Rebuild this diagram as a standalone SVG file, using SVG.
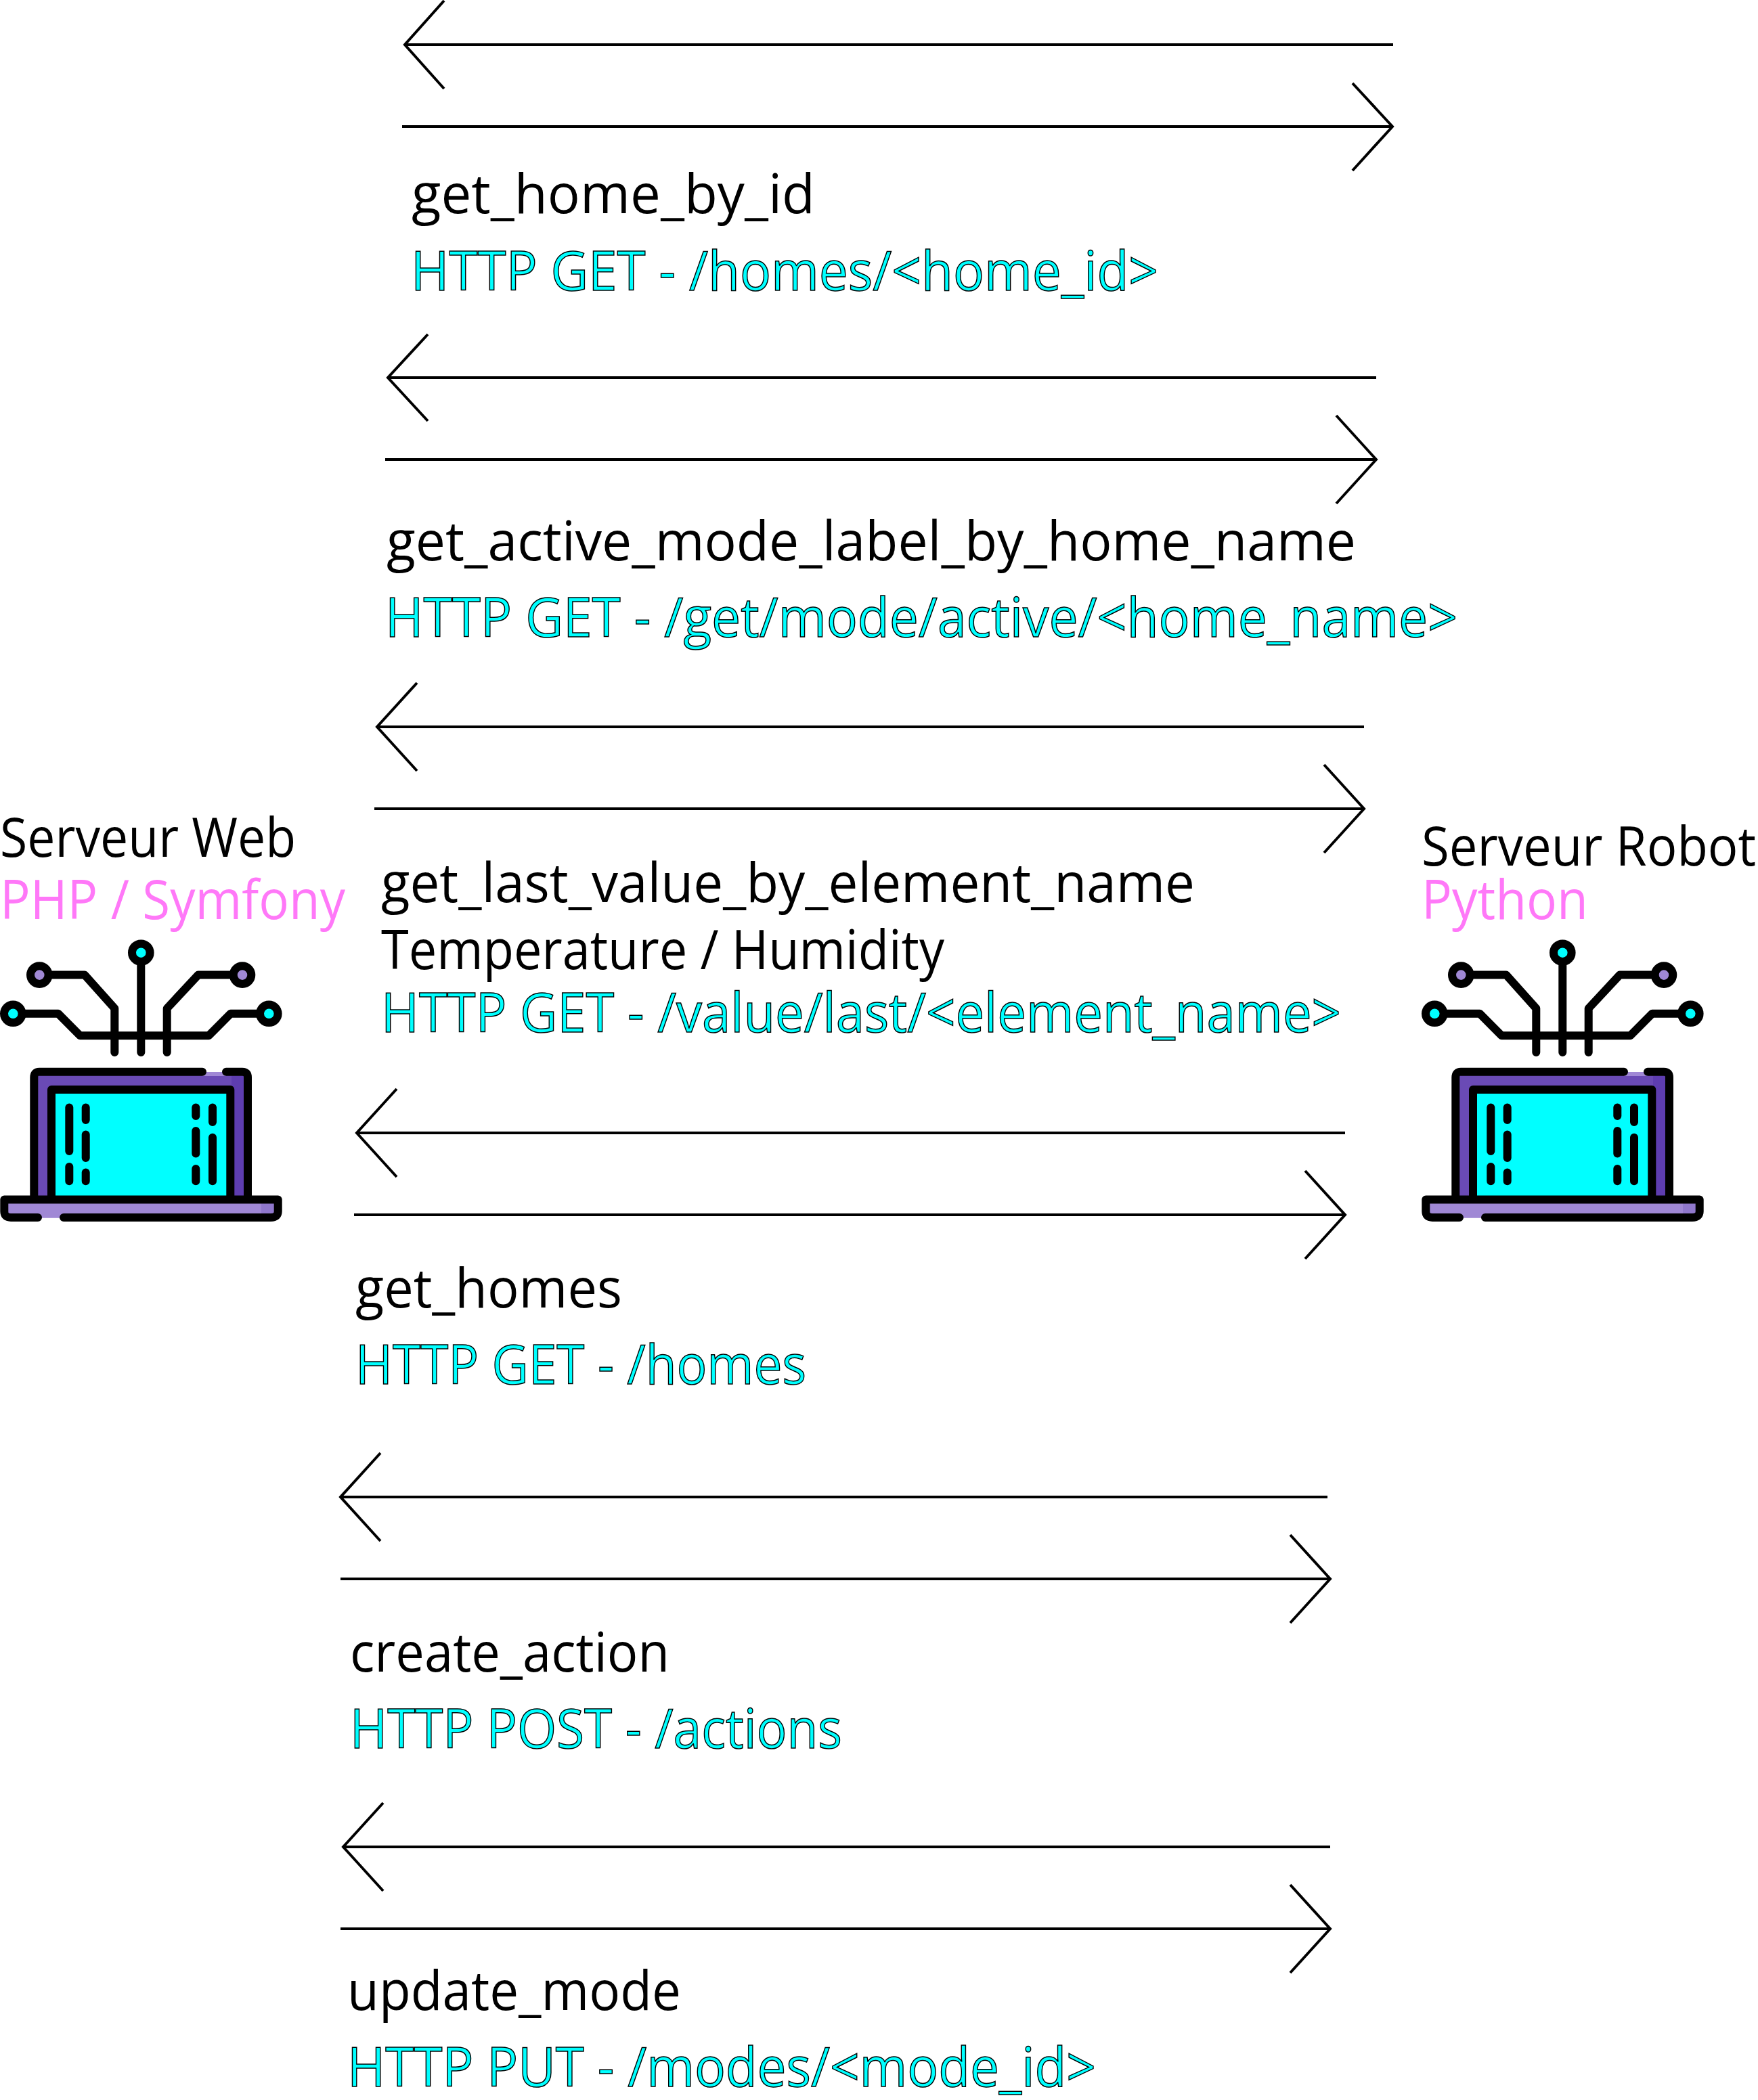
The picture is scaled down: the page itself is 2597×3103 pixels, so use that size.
<svg xmlns="http://www.w3.org/2000/svg" xmlns:xlink="http://www.w3.org/1999/xlink" width="2597" height="3103" viewBox="0 0 2597 3103">
<style>
text{font-family:"Open Sans","Noto Sans","Liberation Sans",sans-serif;font-size:80px;fill:#000}
.http{fill:#00ffff;stroke:#000;stroke-width:1.5px}
.pink{fill:#ff78f8}
.arrow path{fill:none;stroke:#000;stroke-width:4;stroke-linejoin:miter}
.k{fill:none;stroke:#000;stroke-width:12;stroke-linecap:round;stroke-linejoin:round}
</style>
<defs>
<g id="laptop">
<rect x="50" y="1584" width="316" height="188" fill="#6a4ab5"/>
<rect x="342" y="1590" width="24" height="182" fill="#5e3db0"/>
<rect x="299" y="1584" width="35" height="6" fill="#a088d5"/>
<rect x="76" y="1610" width="264.300" height="162" fill="#00ffff"/>
<path class="k" d="M76 1772V1610H340.300V1772"/>
<path class="k" d="M299 1583.700H58Q50.300 1583.700 50.300 1592V1772M334 1583.700H358Q366 1583.700 366 1592V1772"/>
<path class="k" d="M102.300 1636.500V1701M102.300 1724V1745.300M126.700 1636.500V1655M126.700 1676.500V1711M126.700 1732.500V1745.300M289.300 1636.500V1649M289.300 1671V1704.500M289.300 1727V1745.300M314 1636.500V1658M314 1680.700V1745.300"/>
<path d="M6.300 1772.400H410.700V1792Q410.700 1799.700 402 1799.700H14Q6.300 1799.700 6.300 1792Z" fill="#a088d5"/>
<rect x="386" y="1778" width="19" height="15" fill="#9078cc"/>
<path class="k" d="M56 1798.900H16Q6.300 1798.900 6.300 1790V1772.400H410.700V1790Q410.700 1798.900 400 1798.900H94"/>
<path class="k" d="M72 1440.600H125L169.300 1490V1555M345 1440.600H292.700L246.700 1490V1555M33 1497.800H86L118.300 1530.300H308.300L340.700 1497.800H384M208.300 1426V1555"/>
<g stroke="#000" stroke-width="12">
<circle cx="208.300" cy="1407.700" r="13.300" fill="#00ffff"/>
<circle cx="58.300" cy="1440.600" r="13.300" fill="#a088d5"/>
<circle cx="358" cy="1440.600" r="13.300" fill="#a088d5"/>
<circle cx="19.300" cy="1497.800" r="13.300" fill="#00ffff"/>
<circle cx="397.300" cy="1497.800" r="13.300" fill="#00ffff"/>
</g>
</g>
</defs>
<rect width="2597" height="3103" fill="#fff"/>
<g id="connectors" class="arrow">
<path d="M2058 66H598M656 1L598 66L656 131"/>
<path d="M594 187H2057M1998 123L2057 187L1998 252"/>
<path d="M2033 558H573M632 494L573 558L632 622"/>
<path d="M569 679H2033M1974 614L2033 679L1974 744"/>
<path d="M2015 1074H557M616 1009L557 1074L616 1139"/>
<path d="M553 1195H2015M1956 1130L2015 1195L1956 1260"/>
<path d="M1987 1674H527M586 1609L527 1674L586 1739"/>
<path d="M523 1795H1987M1928 1730L1987 1795L1928 1860"/>
<path d="M1961 2212H503M562 2147L503 2212L562 2277"/>
<path d="M503 2333H1965M1906 2268L1965 2333L1906 2398"/>
<path d="M1965 2729H507M566 2664L507 2729L566 2794"/>
<path d="M503 2850H1965M1906 2785L1965 2850L1906 2915"/>
</g>
<g id="node-serveur-web">
<use xlink:href="#laptop" href="#laptop"/>
<text x="0" y="1266" textLength="437" lengthAdjust="spacingAndGlyphs">Serveur Web</text>
<text class="pink" x="0" y="1358" textLength="510" lengthAdjust="spacingAndGlyphs">PHP / Symfony</text>
</g>
<g id="node-serveur-robot">
<use xlink:href="#laptop" href="#laptop" transform="translate(2100,0)"/>
<text x="2100" y="1279" textLength="494" lengthAdjust="spacingAndGlyphs">Serveur Robot</text>
<text class="pink" x="2100" y="1358" textLength="246" lengthAdjust="spacingAndGlyphs">Python</text>
</g>
<g id="labels">
<text x="608" y="315" textLength="596" lengthAdjust="spacingAndGlyphs">get_home_by_id</text>
<text class="http" x="607" y="429" textLength="1104" lengthAdjust="spacingAndGlyphs">HTTP GET - /homes/&lt;home_id&gt;</text>
<text x="571" y="828" textLength="1432" lengthAdjust="spacingAndGlyphs">get_active_mode_label_by_home_name</text>
<text class="http" x="569" y="941" textLength="1584" lengthAdjust="spacingAndGlyphs">HTTP GET - /get/mode/active/&lt;home_name&gt;</text>
<text x="563" y="1333" textLength="1202" lengthAdjust="spacingAndGlyphs">get_last_value_by_element_name</text>
<text x="563" y="1432" textLength="832" lengthAdjust="spacingAndGlyphs">Temperature / Humidity</text>
<text class="http" x="563" y="1525" textLength="1418" lengthAdjust="spacingAndGlyphs">HTTP GET - /value/last/&lt;element_name&gt;</text>
<text x="525" y="1932" textLength="394" lengthAdjust="spacingAndGlyphs">get_homes</text>
<text class="http" x="525" y="2045" textLength="666" lengthAdjust="spacingAndGlyphs">HTTP GET - /homes</text>
<text x="517" y="2470" textLength="472" lengthAdjust="spacingAndGlyphs">create_action</text>
<text class="http" x="517" y="2583" textLength="727" lengthAdjust="spacingAndGlyphs">HTTP POST - /actions</text>
<text x="513" y="2970" textLength="493" lengthAdjust="spacingAndGlyphs">update_mode</text>
<text class="http" x="513" y="3083" textLength="1106" lengthAdjust="spacingAndGlyphs">HTTP PUT - /modes/&lt;mode_id&gt;</text>
</g>
</svg>
